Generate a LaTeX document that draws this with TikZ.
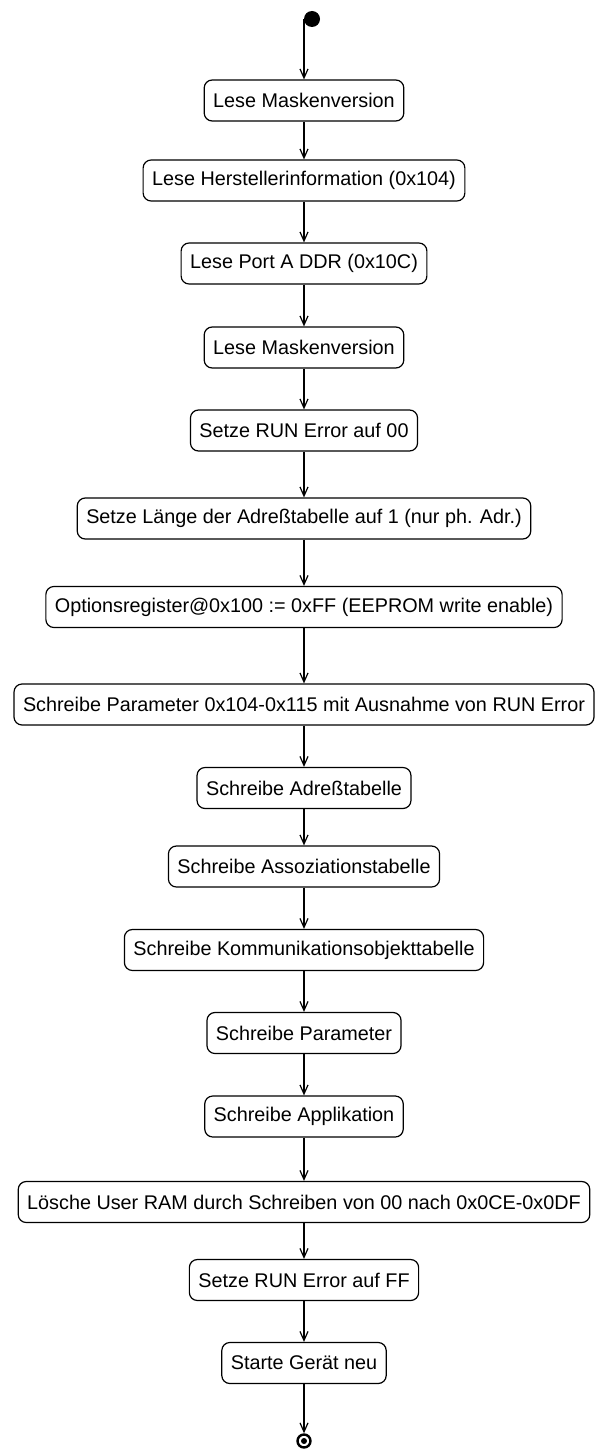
\documentclass[tikz,border=0pt]{standalone}
\usepackage{fontspec}
\setmainfont{Liberation Sans}
\usetikzlibrary{arrows.meta}
\begin{document}
\begin{tikzpicture}[x=1pt,y=-1pt,
  activity/.style={draw, line width=1.2pt, rounded corners=8pt, fill=white,
    minimum height=41pt, inner xsep=9pt, inner ysep=0pt,
    font=\fontsize{19.8}{22}\selectfont},
  flow/.style={draw, line width=1.2pt,
    -{Straight Barb[length=9pt,width=8pt,line width=1.2pt]}},
  initial/.style={circle, fill=black, inner sep=0pt, outer sep=0pt, minimum size=16pt},
  final/.style={circle, draw, line width=2.4pt, inner sep=0pt, minimum size=13pt}]
\useasboundingbox (0,0) rectangle (597,1450);

% start and end markers
\node[initial] (start) at (312,19) {};
\node[final] (end) at (304,1441) {};
\fill (end.center) circle (3pt);

% activities
\node[activity] (b1)  at (304,100.5)  {Lese Maskenversion};
\node[activity] (b2)  at (304,180.5)  {Lese Herstellerinformation (0x104)};
\node[activity] (b3)  at (304,263.5)  {Lese Port A DDR (0x10C)};
\node[activity] (b4)  at (304,347.5)  {Lese Maskenversion};
\node[activity] (b5)  at (304,430.5)  {Setze RUN Error auf 00};
\node[activity] (b6)  at (304,518.5)  {Setze Länge der Adreßtabelle auf 1 (nur ph. Adr.)};
\node[activity] (b7)  at (304,607)    {Optionsregister@0x100 := 0xFF (EEPROM write enable)};
\node[activity] (b8)  at (304,704.5)  {Schreibe Parameter 0x104-0x115 mit Ausnahme von RUN Error};
\node[activity] (b9)  at (304,788)    {Schreibe Adreßtabelle};
\node[activity] (b10) at (304,866.5)  {Schreibe Assoziationstabelle};
\node[activity] (b11) at (304,950)    {Schreibe Kommunikationsobjekttabelle};
\node[activity] (b12) at (304,1033)   {Schreibe Parameter};
\node[activity] (b13) at (304,1116.5) {Schreibe Applikation};
\node[activity] (b14) at (304,1202)   {Lösche User RAM durch Schreiben von 00 nach 0x0CE-0x0DF};
\node[activity] (b15) at (304,1280)   {Setze RUN Error auf FF};
\node[activity] (b16) at (304,1363)   {Starte Gerät neu};

% transitions
\draw[flow] (start.west) -- (start.west |- b1.north);
\foreach \a/\b in {b1/b2,b2/b3,b3/b4,b4/b5,b5/b6,b6/b7,b7/b8,b8/b9,b9/b10,
                   b10/b11,b11/b12,b12/b13,b13/b14,b14/b15,b15/b16}
  \draw[flow] (\a.south) -- (\b.north);
\draw[flow] (b16.south) -- (end.north);
\end{tikzpicture}
\end{document}
